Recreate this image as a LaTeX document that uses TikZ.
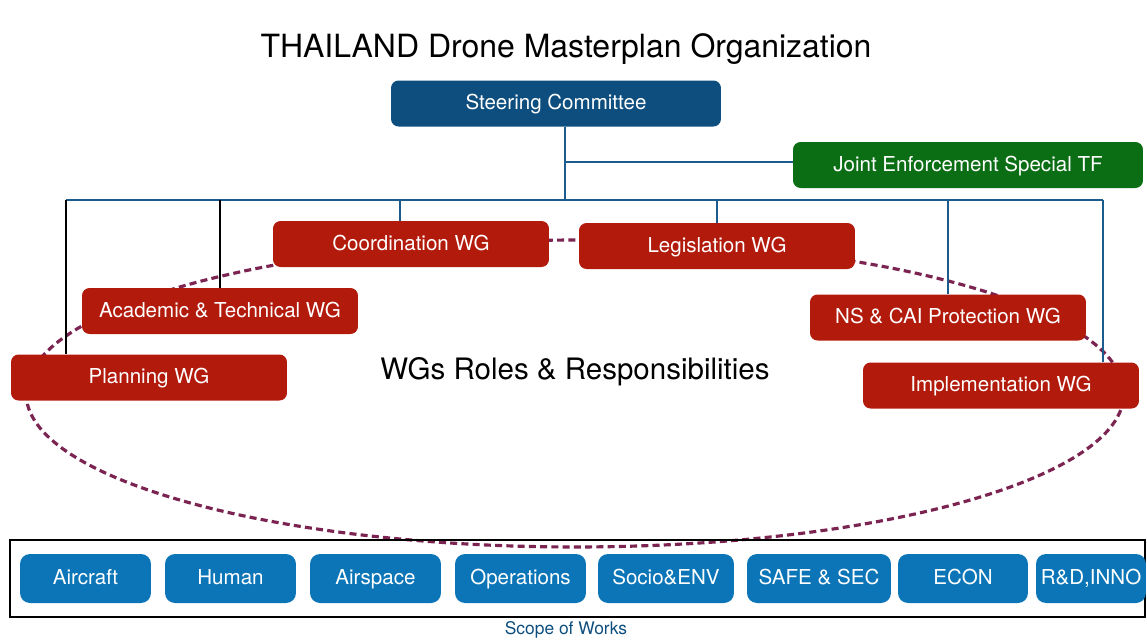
\documentclass[tikz,border=0pt]{standalone}
\usepackage{fontspec}
\setmainfont{TeX Gyre Heros}
\definecolor{steerblue}{HTML}{0D4E7E}
\definecolor{tfgreen}{HTML}{0B6E14}
\definecolor{wgred}{HTML}{B21A0C}
\definecolor{scopeblue}{HTML}{0B75B7}
\definecolor{lineblue}{HTML}{1B5C8C}
\definecolor{ovalpurple}{HTML}{7B2351}
\tikzset{
  orgbox/.style={rounded corners=0.15cm, text=white, inner sep=0pt,
    font=\fontsize{11.7}{14}\selectfont, minimum height=0.92cm,
    text height=1.6ex, text depth=0.22ex},
  wgbox/.style={orgbox, fill=wgred, minimum width=5.52cm},
  scopebox/.style={orgbox, fill=scopeblue, rounded corners=0.2cm, minimum height=0.98cm},
  orgline/.style={draw=lineblue, line width=1.1pt},
  wgline/.style={draw=black, line width=1.1pt},
}
\begin{document}
\begin{tikzpicture}[x=0.02cm, y=-0.02cm]
        \useasboundingbox (0,0) rectangle (1147,640);
        % Title
        \node[font=\fontsize{18.2}{22}\selectfont] (title) at (566,49) {THAILAND Drone Masterplan Organization};
        % Roles oval (behind the boxes)
        \draw[ovalpurple, line width=1.8pt, dash pattern=on 4pt off 2.4pt] (575,393.5) ellipse [x radius=10.98cm, y radius=3.07cm];
        \node[font=\fontsize{16.8}{20}\selectfont] (roles) at (575,372) {WGs Roles \& Responsibilities};
        % Top level
        \node[orgbox, fill=steerblue, minimum width=6.6cm] (steering) at (556,103.5) {Steering Committee};
        \node[orgbox, fill=tfgreen, minimum width=7cm] (joint) at (968,165) {Joint Enforcement Special TF};
        % Working groups
        \node[wgbox] (coordination) at (411,244) {Coordination WG};
        \node[wgbox] (legislation) at (717,246) {Legislation WG};
        \node[wgbox] (academic) at (220,311) {Academic \& Technical WG};
        \node[wgbox] (protection) at (948,317.5) {NS \& CAI Protection WG};
        \node[wgbox] (planning) at (149,377.5) {Planning WG};
        \node[wgbox] (implementation) at (1001,385.5) {Implementation WG};
        % Trunk, task force branch and bus
        \coordinate (trunk) at (565,200);
        \coordinate (branch) at (565,162);
        \coordinate (busL) at (66,200);
        \coordinate (busA) at (220,200);
        \coordinate (busC) at (400,200);
        \coordinate (busG) at (717,200);
        \coordinate (busN) at (948,200);
        \coordinate (busR) at (1103,200);
        \draw[orgline] (trunk |- steering.south) -- (trunk);
        \draw[orgline] (branch) -- (branch -| joint.west);
        \draw[orgline] (busL) -- (busR);
        \draw[wgline] (busL) -- (busL |- planning.north);
        \draw[wgline] (busA) -- (academic.north);
        \draw[orgline] (busC) -- (busC |- coordination.north);
        \draw[orgline] (busG) -- (legislation.north);
        \draw[orgline] (busN) -- (protection.north);
        \draw[orgline] (busR) -- (busR |- implementation.north);
        % Scope of works
        \draw[black, line width=1.4pt] (10,540) rectangle (1145,617);
        \foreach \i/\cx/\w/\txt in {1/85.5/2.62/Aircraft, 2/230.5/2.62/Human, 3/375.5/2.62/Airspace,
            4/520.5/2.62/Operations, 5/666/2.72/Socio\&ENV, 6/819/2.88/SAFE \& SEC,
            7/963/2.6/ECON, 8/1091/2.2/{R\&D,INNO}} {
            \node[scopebox, minimum width=\w cm] (scope\i) at (\cx,578.5) {\txt};
        }
        \node[text=steerblue, font=\fontsize{9.9}{12}\selectfont] (scopelabel) at (566,630) {Scope of Works};
    \end{tikzpicture}
\end{document}
